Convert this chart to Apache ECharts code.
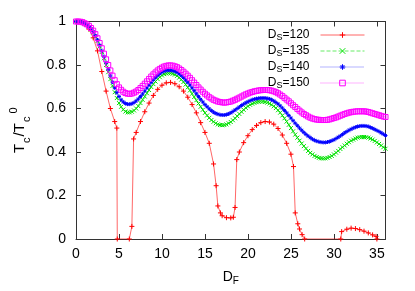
<!DOCTYPE html>
<html>
<head>
<meta charset="utf-8">
<script src="https://cdn.jsdelivr.net/npm/echarts@6/dist/echarts.min.js"></script>
<style>html,body{margin:0;padding:0;background:#fff}#c{width:415px;height:291px}</style>
</head>
<body>
<div id="c"></div>
<script>
// ---- data ----
const xTicks = [0, 5, 10, 15, 20, 25, 30, 35];
const yTicks = [0, 0.2, 0.4, 0.6, 0.8, 1];
const dF = [0,0.25,0.5,0.75,1,1.25,1.5,1.75,2,2.25,2.5,2.75,3,3.25,3.5,3.75,4,4.25,4.5,4.75,5,5.25,5.5,5.75,6,6.25,6.5,6.75,7,7.25,7.5,7.75,8,8.25,8.5,8.75,9,9.25,9.5,9.75,10,10.25,10.5,10.75,11,11.25,11.5,11.75,12,12.25,12.5,12.75,13,13.25,13.5,13.75,14,14.25,14.5,14.75,15,15.25,15.5,15.75,16,16.25,16.5,16.75,17,17.25,17.5,17.75,18,18.25,18.5,18.75,19,19.25,19.5,19.75,20,20.25,20.5,20.75,21,21.25,21.5,21.75,22,22.25,22.5,22.75,23,23.25,23.5,23.75,24,24.25,24.5,24.75,25,25.25,25.5,25.75,26,26.25,26.5,26.75,27,27.25,27.5,27.75,28,28.25,28.5,28.75,29,29.25,29.5,29.75,30,30.25,30.5,30.75,31,31.25,31.5,31.75,32,32.25,32.5,32.75,33,33.25,33.5,33.75,34,34.25,34.5,34.75,35,35.25,35.5,35.75,36];
const ds135 = [1.000,1.000,0.999,0.996,0.990,0.984,0.975,0.964,0.950,0.931,0.910,0.886,0.860,0.831,0.800,0.767,0.735,0.704,0.675,0.648,0.625,0.608,0.595,0.586,0.582,0.582,0.585,0.591,0.600,0.611,0.625,0.640,0.655,0.670,0.685,0.699,0.712,0.724,0.735,0.744,0.752,0.758,0.761,0.762,0.762,0.760,0.756,0.750,0.742,0.733,0.722,0.710,0.697,0.683,0.668,0.653,0.638,0.623,0.608,0.594,0.580,0.568,0.557,0.547,0.539,0.532,0.527,0.524,0.523,0.524,0.527,0.532,0.538,0.546,0.555,0.565,0.575,0.585,0.594,0.603,0.610,0.617,0.622,0.626,0.629,0.631,0.632,0.632,0.630,0.627,0.623,0.617,0.610,0.602,0.592,0.581,0.568,0.555,0.540,0.525,0.510,0.495,0.480,0.466,0.452,0.439,0.427,0.416,0.405,0.396,0.389,0.382,0.377,0.373,0.371,0.370,0.371,0.373,0.377,0.382,0.389,0.397,0.405,0.414,0.422,0.430,0.438,0.445,0.452,0.457,0.462,0.466,0.468,0.469,0.469,0.468,0.466,0.462,0.457,0.451,0.444,0.437,0.430,0.422,0.415];
const ds140 = [1.000,1.000,0.999,0.996,0.991,0.985,0.977,0.966,0.953,0.935,0.915,0.891,0.865,0.838,0.810,0.780,0.750,0.721,0.695,0.673,0.655,0.640,0.630,0.623,0.620,0.620,0.622,0.627,0.635,0.644,0.655,0.667,0.680,0.694,0.707,0.720,0.732,0.743,0.752,0.760,0.767,0.772,0.775,0.776,0.776,0.774,0.771,0.766,0.759,0.751,0.742,0.731,0.720,0.708,0.695,0.682,0.668,0.655,0.642,0.630,0.618,0.608,0.598,0.590,0.583,0.578,0.574,0.571,0.570,0.570,0.572,0.575,0.580,0.586,0.593,0.600,0.607,0.614,0.620,0.626,0.631,0.636,0.640,0.643,0.645,0.647,0.648,0.648,0.648,0.646,0.644,0.640,0.635,0.628,0.621,0.612,0.602,0.591,0.580,0.568,0.556,0.544,0.532,0.521,0.510,0.500,0.490,0.481,0.473,0.466,0.459,0.454,0.450,0.447,0.445,0.444,0.444,0.446,0.448,0.452,0.456,0.462,0.468,0.474,0.481,0.488,0.494,0.500,0.505,0.510,0.514,0.517,0.519,0.520,0.520,0.519,0.517,0.513,0.509,0.504,0.499,0.494,0.488,0.482,0.476];
const ds150 = [1.000,1.000,0.999,0.997,0.992,0.987,0.980,0.970,0.958,0.942,0.923,0.901,0.877,0.852,0.826,0.800,0.775,0.751,0.730,0.712,0.697,0.686,0.677,0.671,0.668,0.667,0.669,0.673,0.678,0.685,0.694,0.704,0.714,0.725,0.736,0.747,0.757,0.766,0.775,0.782,0.788,0.793,0.796,0.798,0.798,0.797,0.794,0.790,0.784,0.777,0.769,0.760,0.751,0.741,0.730,0.719,0.708,0.697,0.687,0.677,0.668,0.660,0.652,0.646,0.640,0.636,0.632,0.630,0.628,0.627,0.628,0.630,0.632,0.636,0.640,0.645,0.650,0.655,0.660,0.665,0.669,0.673,0.676,0.679,0.681,0.683,0.684,0.685,0.685,0.685,0.684,0.682,0.679,0.675,0.670,0.664,0.657,0.649,0.641,0.633,0.624,0.615,0.607,0.598,0.590,0.582,0.575,0.569,0.563,0.558,0.554,0.551,0.549,0.548,0.547,0.547,0.547,0.548,0.550,0.553,0.556,0.559,0.563,0.567,0.571,0.575,0.578,0.581,0.583,0.585,0.586,0.587,0.587,0.587,0.587,0.586,0.584,0.581,0.578,0.575,0.572,0.569,0.566,0.563,0.561];
const redD = [0,0.5,1,1.5,2,2.5,3,3.5,4,4.5,4.75,4.8,6.2,6.5,6.7,7,7.5,8,8.5,9,9.5,10,10.5,11,11.5,12,12.5,13,13.5,14,14.5,15,15.5,16,16.3,16.5,16.8,17,17.5,18,18.3,18.5,18.7,19,19.5,20,20.5,21,21.5,22,22.5,23,23.5,24,24.5,25,25.3,25.5,25.8,26,26.3,26.6,30.8,30.9,31.5,32,32.5,33,33.5,34,34.5,34.9,35];
const ds120 = [1.000,0.998,0.988,0.965,0.925,0.865,0.770,0.680,0.600,0.540,0.510,0,0,0.058,0.460,0.490,0.540,0.585,0.625,0.660,0.688,0.707,0.718,0.720,0.714,0.700,0.680,0.652,0.618,0.580,0.535,0.490,0.440,0.345,0.245,0.152,0.120,0.107,0.098,0.097,0.100,0.145,0.365,0.400,0.443,0.475,0.503,0.522,0.535,0.540,0.538,0.528,0.508,0.478,0.440,0.390,0.333,0.120,0.070,0.046,0.020,0,0,0.034,0.045,0.050,0.048,0.043,0.036,0.028,0.019,0.012,0];
const names = ['120', '135', '140', '150'];

// ---- chart ----
const chart = echarts.init(document.getElementById('c'), null, {renderer: 'canvas'});
const FONT = 'Liberation Sans, Arial, sans-serif';
const zip = (xs, ys) => xs.map((x, i) => [x, ys[i]]);
const axisCommon = {
  min: 0,
  axisLine: {show: true, onZero: false, lineStyle: {color: '#333', width: 1}},
  axisTick: {show: true, inside: true, length: 5, lineStyle: {color: '#333'}},
  splitLine: {show: false}
};
function mkSeries(name, data, color, lineColor, symbol, size, type) {
  return {
    name: 'DS=' + name, type: 'line', data: data, color: color,
    symbol: symbol, symbolSize: size, showAllSymbol: true, animation: false,
    lineStyle: {color: lineColor, width: 1, type: type},
    itemStyle: {color: 'rgba(0,0,0,0)', borderColor: color, borderWidth: 1},
    emphasis: {disabled: true}
  };
}
const plus = 'path://M-1,0L1,0M0,-1L0,1';
const cross = 'path://M-1,-1L1,1M-1,1L1,-1';
const star = 'path://M-1,0L1,0M0,-1L0,1M-0.7,-0.7L0.7,0.7M-0.7,0.7L0.7,-0.7';
const square = 'path://M-1,-1L1,-1L1,1L-1,1Z';

chart.setOption({
  animation: false,
  textStyle: {fontFamily: FONT},
  grid: {left: 70.5, right: 29.5, top: 21.5, bottom: 43.5, containLabel: false},
  legend: {
    orient: 'vertical', right: 45, top: 24, align: 'right',
    itemWidth: 44, itemHeight: 7, itemGap: 3,
    lineStyle: {width: 1},
    itemStyle: {color: 'rgba(0,0,0,0)', borderWidth: 1},
    data: names.map(n => 'DS=' + n),
    formatter: n => '{a|D}{s|S}{a|=' + n.slice(3) + '}{g|}',
    textStyle: {
      color: '#000', fontSize: 12, fontFamily: FONT,
      rich: {
        a: {fontSize: 12, fontFamily: FONT, color: '#000', lineHeight: 14},
        s: {fontSize: 9, fontFamily: FONT, color: '#000', lineHeight: 14, verticalAlign: 'bottom', padding: [4, 0, 0, 0]},
        g: {width: 6}
      }
    }
  },
  xAxis: [
    Object.assign({}, axisCommon, {
      type: 'value', max: 36, interval: 5, position: 'bottom',
      name: '{a|D}{s|F}', nameLocation: 'middle', nameGap: 29,
      nameTextStyle: {rich: {
        a: {fontSize: 14, fontFamily: FONT, color: '#000', lineHeight: 18},
        s: {fontSize: 10, fontFamily: FONT, color: '#000', lineHeight: 18, verticalAlign: 'bottom', padding: [6, 0, 0, 0]}
      }},
      axisLabel: {color: '#000', fontSize: 14, fontFamily: FONT, margin: 8, showMaxLabel: false,
        formatter: v => xTicks.indexOf(v) >= 0 ? String(v) : ''}
    }),
    Object.assign({}, axisCommon, {
      type: 'value', max: 36, interval: 5, position: 'top', axisLabel: {show: false}
    })
  ],
  yAxis: [
    Object.assign({}, axisCommon, {
      type: 'value', max: 1, interval: 0.2, position: 'left',
      name: '{a|T}{s|c}{a|/T}{s|c}{p|0}', nameLocation: 'middle', nameGap: 44, nameRotate: 90,
      nameTextStyle: {rich: {
        a: {fontSize: 15, fontFamily: FONT, color: '#000', lineHeight: 24},
        s: {fontSize: 11, fontFamily: FONT, color: '#000', lineHeight: 24, verticalAlign: 'bottom', padding: [8, 1, 0, 1]},
        p: {fontSize: 11, fontFamily: FONT, color: '#000', lineHeight: 24, verticalAlign: 'top', padding: [0, 0, 10, 2]}
      }},
      axisLabel: {color: '#000', fontSize: 14, fontFamily: FONT, margin: 10,
        formatter: v => { const t = yTicks.find(y => Math.abs(y - v) < 1e-9); return t === undefined ? '' : String(t); }}
    }),
    Object.assign({}, axisCommon, {
      type: 'value', max: 1, interval: 0.2, position: 'right', axisLabel: {show: false}
    })
  ],
  series: [
    mkSeries('120', zip(redD, ds120), '#ff0000', 'rgba(255,0,0,0.6)', plus, 5, 'solid'),
    mkSeries('135', zip(dF, ds135), '#00e000', 'rgba(0,224,0,0.6)', cross, 4, 'dashed'),
    mkSeries('140', zip(dF, ds140), '#0000ff', 'rgba(0,0,255,0.6)', star, 4, 'dotted'),
    mkSeries('150', zip(dF, ds150), '#ff00ff', 'rgba(255,0,255,0.6)', square, 5, 'dotted')
  ]
});
</script>
</body>
</html>
